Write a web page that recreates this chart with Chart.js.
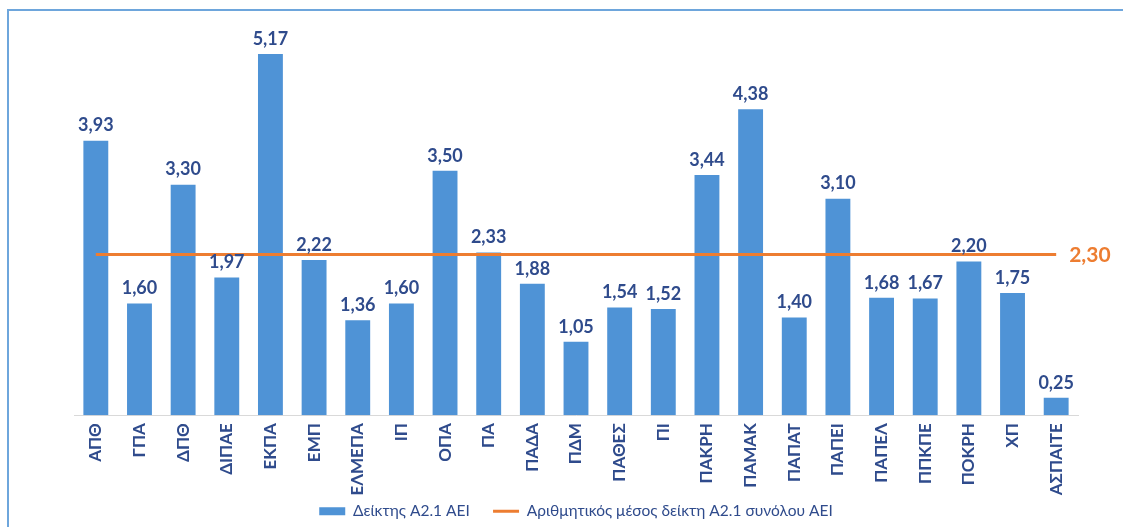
<!DOCTYPE html>
<html>
<head>
<meta charset="utf-8">
<script src="https://cdn.jsdelivr.net/npm/chart.js@4"></script>
<style>
  html, body { margin: 0; padding: 0; background: #fff; }
  #wrap { position: relative; width: 1123px; height: 527px; overflow: hidden; }
  #frame { position: absolute; left: 7px; top: 9px; width: 1140px; height: 540px;
           border: 2px solid #6ea6dc; box-sizing: border-box; }
  #c { position: absolute; left: 0; top: 0; }
</style>
</head>
<body>
<div id="wrap">
  <div id="frame"></div>
  <canvas id="c" width="1123" height="527"></canvas>
</div>
<script>
// Δείκτης Α2.1 ανά ΑΕΙ και αριθμητικός μέσος
const labels = ["ΑΠΘ", "ΓΠΑ", "ΔΠΘ", "ΔΙΠΑΕ", "ΕΚΠΑ", "ΕΜΠ", "ΕΛΜΕΠΑ", "ΙΠ", "ΟΠΑ", "ΠΑ", "ΠΑΔΑ", "ΠΔΜ",
  "ΠΑΘΕΣ", "ΠΙ", "ΠΑΚΡΗ", "ΠΑΜΑΚ", "ΠΑΠΑΤ", "ΠΑΠΕΙ", "ΠΑΠΕΛ", "ΠΠΚΠΕ", "ΠΟΚΡΗ", "ΧΠ", "ΑΣΠΑΙΤΕ"];
const indexValues = [3.93, 1.60, 3.30, 1.97, 5.17, 2.22, 1.36, 1.60, 3.50, 2.33, 1.88, 1.05,
  1.54, 1.52, 3.44, 4.38, 1.40, 3.10, 1.68, 1.67, 2.20, 1.75, 0.25];
const meanValues = [2.30, 2.30, 2.30, 2.30, 2.30, 2.30, 2.30, 2.30, 2.30, 2.30, 2.30, 2.30,
  2.30, 2.30, 2.30, 2.30, 2.30, 2.30, 2.30, 2.30, 2.30, 2.30, 2.30];

const BLUE = "#4f93d6";
const ORANGE = "#ed7d31";
const TEXT = "#2f4b8c";
const FONT = "Lato, 'Open Sans', sans-serif";

const fmt = (v) => v.toFixed(2).replace(".", ",");

// ετικέτες τιμών πάνω από τις μπάρες + τιμή μέσου δεξιά της γραμμής
const valueLabels = {
  id: "valueLabels",
  afterDatasetsDraw(chart) {
    const ctx = chart.ctx;
    ctx.save();
    ctx.textAlign = "center";
    ctx.textBaseline = "bottom";
    ctx.font = "bold 18px " + FONT;
    ctx.fillStyle = TEXT;
    chart.getDatasetMeta(0).data.forEach((bar, i) => {
      ctx.fillText(fmt(indexValues[i]), bar.x, bar.y - 6);
    });
    const line = chart.getDatasetMeta(1).data;
    const last = line[line.length - 1];
    ctx.textAlign = "left";
    ctx.textBaseline = "middle";
    ctx.font = "bold 21px " + FONT;
    ctx.fillStyle = ORANGE;
    ctx.fillText(fmt(meanValues[meanValues.length - 1]), last.x + 13, last.y + 1);
    ctx.restore();
  }
};

new Chart(document.getElementById("c"), {
  data: {
    labels: labels,
    datasets: [{
      type: "bar",
      label: "Δείκτης Α2.1 ΑΕΙ",
      data: indexValues,
      backgroundColor: BLUE,
      categoryPercentage: 1,
      barPercentage: 0.57,
      order: 1,
    }, {
      type: "line",
      label: "Αριθμητικός μέσος δείκτη Α2.1 συνόλου ΑΕΙ",
      data: meanValues,
      borderColor: ORANGE,
      backgroundColor: ORANGE,
      borderWidth: 3,
      pointRadius: 0,
      order: 0,
    }],
  },
  options: {
    responsive: false,
    animation: false,
    layout: { padding: { left: 74, right: 45, top: 31, bottom: -2 } },
    plugins: {
      tooltip: { enabled: false },
      legend: {
        position: "bottom",
        labels: {
          usePointStyle: true,
          pointStyleWidth: 26,
          boxHeight: 8,
          padding: 0,
          color: TEXT,
          font: { family: FONT, size: 15.5 },
          sort: (a, b) => a.datasetIndex - b.datasetIndex,
          generateLabels: (chart) =>
            Chart.defaults.plugins.legend.labels.generateLabels(chart).map((l) => ({
              ...l,
              text: l.datasetIndex === 0 ? l.text + "\u2003\u2003" : l.text,
              pointStyle: l.datasetIndex === 0 ? "rect" : "line",
              fillStyle: l.datasetIndex === 0 ? BLUE : ORANGE,
              strokeStyle: l.datasetIndex === 0 ? BLUE : ORANGE,
              lineWidth: l.datasetIndex === 0 ? 0 : 3,
            })),
        },
      },
    },
    scales: {
      y: { display: false, min: 0, max: 5.5 },
      x: {
        grid: { display: false, drawTicks: false },
        border: { color: "#d9d9d9", width: 1 },
        ticks: {
          minRotation: 90, maxRotation: 90, autoSkip: false, padding: 8,
          color: TEXT, font: { family: FONT, size: 17, weight: "bold" },
        },
      },
    },
  },
  plugins: [valueLabels],
});
</script>
</body>
</html>
